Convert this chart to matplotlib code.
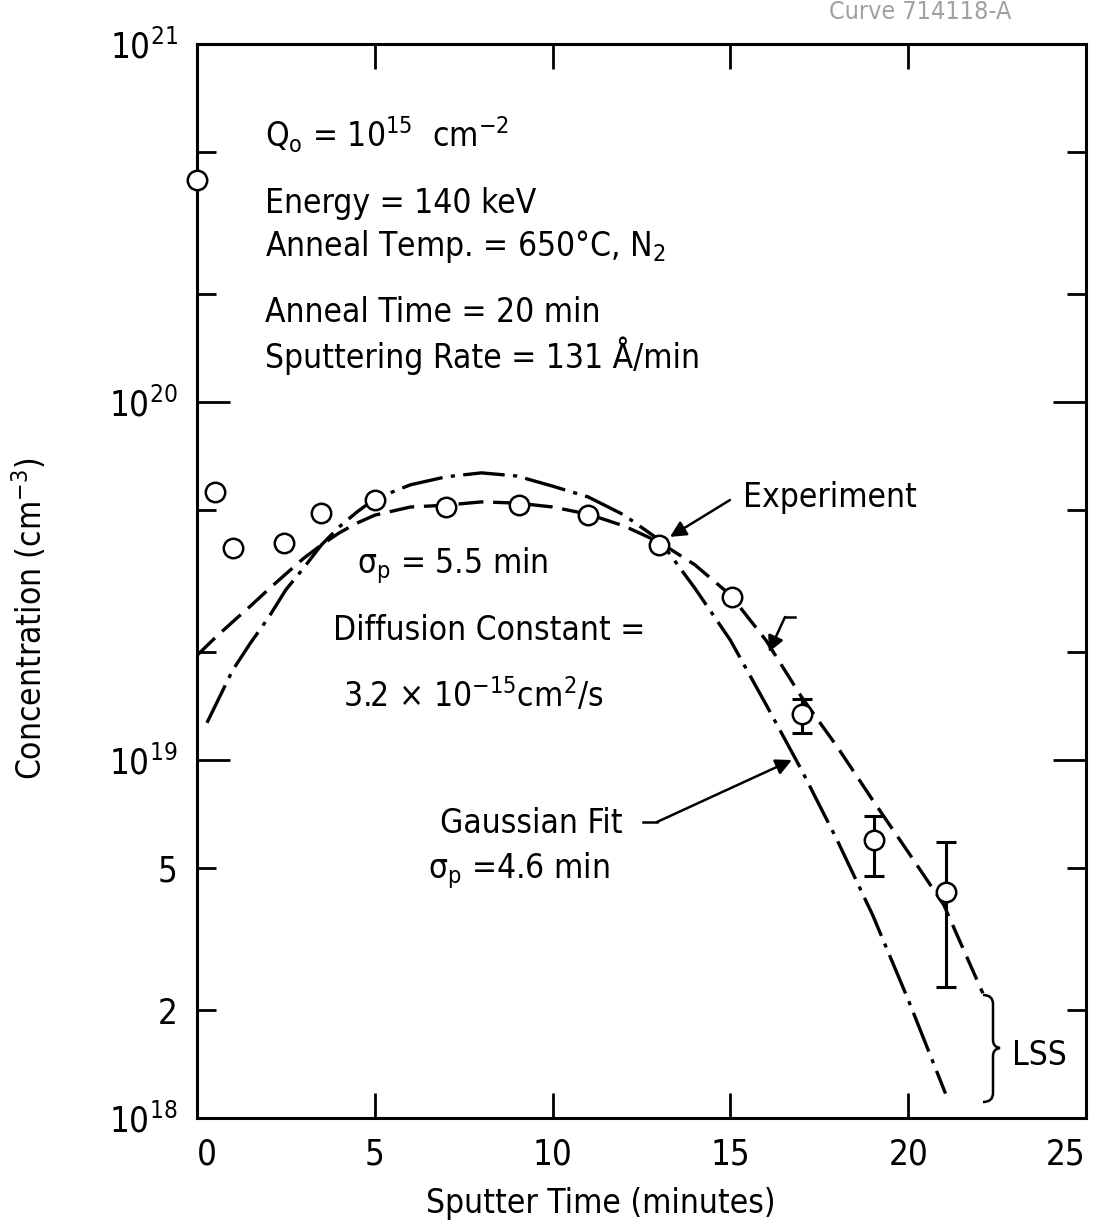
import matplotlib
matplotlib.use('Agg')
import matplotlib.pyplot as plt
from matplotlib.ticker import FixedLocator, FixedFormatter
from matplotlib.path import Path
from matplotlib.patches import PathPatch

plt.rcParams['font.family'] = ['DejaVu Sans']
plt.rcParams['font.stretch'] = 'condensed'
plt.rcParams['mathtext.default'] = 'regular'
plt.rcParams['lines.scale_dashes'] = False

# measured profile (open circles)
time_pts = [0.0, 0.5, 1.0, 2.45, 3.5, 5.0, 7.0, 9.05, 11.0, 13.0, 15.05, 17.0, 19.05, 21.05]
conc_pts = [4.17e20, 5.61e19, 3.91e19, 4.04e19, 4.90e19, 5.32e19, 5.09e19, 5.15e19,
            4.83e19, 3.99e19, 2.85e19, 1.34e19, 5.98e18, 4.27e18]

# error bars on the deep points
err_time = [17.0, 19.05, 21.05]
err_conc = [1.34e19, 5.98e18, 4.27e18]
err_low = [1.19e19, 4.74e18, 2.32e18]
err_high = [1.48e19, 6.98e18, 5.90e18]

# LSS + diffusion curve (dashed, sigma_p = 5.5 min)
lss_time = [0, 0.5, 1, 1.5, 2, 2.5, 3, 3.5, 4, 4.5, 5, 6, 7, 8, 9, 10, 11, 12, 13,
            14, 15, 16, 17, 18, 19, 20, 21, 21.5, 22.1]
lss_conc = [1.96e19, 2.19e19, 2.43e19, 2.69e19, 2.99e19, 3.31e19, 3.66e19, 3.99e19,
            4.31e19, 4.59e19, 4.83e19, 5.09e19, 5.15e19, 5.26e19, 5.22e19, 5.09e19,
            4.86e19, 4.51e19, 4.06e19, 3.51e19, 2.89e19, 2.16e19, 1.50e19, 1.09e19,
            7.73e18, 5.53e18, 3.94e18, 3.04e18, 2.23e18]

# Gaussian fit (dash-dot, sigma_p = 4.6 min)
gauss_time = [0.28, 1, 1.5, 2, 2.5, 3, 3.5, 4, 4.5, 5, 6, 7, 8, 9, 10, 11, 12, 13,
              14, 15, 16, 17, 18, 19, 20, 21.05]
gauss_conc = [1.27e19, 1.78e19, 2.12e19, 2.49e19, 2.99e19, 3.44e19, 3.99e19, 4.48e19,
              4.93e19, 5.36e19, 5.87e19, 6.18e19, 6.34e19, 6.21e19, 5.82e19, 5.43e19,
              4.84e19, 4.12e19, 3.02e19, 2.16e19, 1.43e19, 9.38e18, 5.98e18, 3.69e18,
              2.14e18, 1.17e18]

y_major = [1e18, 1e19, 1e20, 1e21]
y_major_labels = ['$10^{18}$', '$10^{19}$', '$10^{20}$', '$10^{21}$']
y_minor = [2e18, 5e18, 2e19, 5e19, 2e20, 5e20]
y_minor_labels = ['2', '5', '', '', '', '']
x_ticks = [0, 5, 10, 15, 20, 25]

fig = plt.figure(figsize=(10.98, 12.26), dpi=100)
ax = fig.add_axes([197 / 1098, 108 / 1226, 889 / 1098, 1074 / 1226])


def at(px, py):
    # pixel position in the figure -> axes fraction
    return ((px - 197) / 889, (1118 - py) / 1074)


ax.plot(lss_time, lss_conc, color='k', lw=2.4, dashes=(18, 7), zorder=2)
ax.plot(gauss_time, gauss_conc, color='k', lw=2.4, dashes=(30, 6, 3, 6), zorder=2)

ax.errorbar(err_time, err_conc,
            yerr=[[c - l for c, l in zip(err_conc, err_low)],
                  [h - c for c, h in zip(err_conc, err_high)]],
            fmt='none', ecolor='k', elinewidth=2.2, capsize=7, capthick=2.2, zorder=3)
ax.plot(time_pts, conc_pts, 'o', ms=14, mfc='white', mec='k', mew=1.8,
        zorder=4, clip_on=False)

ax.set_yscale('log')
ax.set_xlim(0, 25)
ax.set_ylim(1e18, 1e21)
ax.yaxis.set_major_locator(FixedLocator(y_major))
ax.yaxis.set_major_formatter(FixedFormatter(y_major_labels))
ax.yaxis.set_minor_locator(FixedLocator(y_minor))
ax.yaxis.set_minor_formatter(FixedFormatter(y_minor_labels))
ax.set_xticks(x_ticks)
ax.set_xticklabels([str(t) for t in x_ticks])

ax.tick_params(axis='y', which='both', direction='in', left=True, right=True,
               labelsize=25, pad=14, width=2)
ax.tick_params(axis='y', which='major', length=24)
ax.tick_params(axis='y', which='minor', length=14)
ax.tick_params(axis='x', direction='in', top=True, length=18, width=2,
               labelsize=25, pad=14)
xlabels = ax.get_xticklabels()
xlabels[0].set_horizontalalignment('left')
xlabels[-1].set_horizontalalignment('right')
for spine in ax.spines.values():
    spine.set_linewidth(2.2)

ax.set_xlabel('Sputter Time (minutes)', fontsize=24)
ax.xaxis.set_label_coords(0.454, -0.064)
ax.set_ylabel('Concentration (cm$^{-3}$)', fontsize=24)
ax.yaxis.set_label_coords(-0.166, 0.465)

fs = 24
tk = dict(transform=ax.transAxes, fontsize=fs, va='baseline', ha='left')
ax.text(*at(265, 147), r'$Q_o$ = 10$^{15}$  cm$^{-2}$', **tk)
ax.text(*at(265, 213), 'Energy = 140 keV', **tk)
ax.text(*at(265, 256), 'Anneal Temp. = 650°C, N$_2$', **tk)
ax.text(*at(265, 322), 'Anneal Time = 20 min', **tk)
ax.text(*at(265, 368), 'Sputtering Rate = 131 Å/min', **tk)
ax.text(*at(743, 507), 'Experiment', **tk)
ax.text(*at(357, 573), r'$\sigma_p$ = 5.5 min', **tk)
ax.text(*at(333, 640), 'Diffusion Constant =', **tk)
ax.text(*at(343, 707), '3.2 × 10$^{-15}$cm$^2$/s', **tk)
ax.text(*at(440, 833), 'Gaussian Fit', **tk)
ax.text(*at(428, 878), r'$\sigma_p$ =4.6 min', **tk)
ax.text(*at(1012, 1065), 'LSS', **tk)

arrow = dict(arrowstyle='-|>', lw=1.8, color='k', mutation_scale=24,
             shrinkA=0, shrinkB=0)
ax.annotate('', xy=(13.3, 4.2e19), xytext=at(730, 500),
            textcoords='axes fraction', arrowprops=arrow)

h0, h1 = at(785, 617), at(795, 617)
ax.plot([h0[0], h1[0]], [h0[1], h1[1]], color='k', lw=1.8, transform=ax.transAxes)
ax.annotate('', xy=(16.08, 2.0e19), xytext=h0, textcoords='axes fraction',
            arrowprops=arrow)

g0, g1 = at(643, 822), at(657, 822)
ax.plot([g0[0], g1[0]], [g0[1], g1[1]], color='k', lw=1.8, transform=ax.transAxes)
ax.annotate('', xy=(16.73, 1.0e19), xytext=g1, textcoords='axes fraction',
            arrowprops=arrow)

# curly brace for LSS
brace_px = [(983, 995), (993, 995), (993, 1004), (993, 1012),
            (993, 1040), (993, 1047), (1000, 1048),
            (993, 1049), (993, 1056), (993, 1085),
            (993, 1093), (993, 1102), (983, 1102)]
codes = [Path.MOVETO, Path.CURVE3, Path.CURVE3, Path.LINETO,
         Path.LINETO, Path.CURVE3, Path.CURVE3,
         Path.CURVE3, Path.CURVE3, Path.LINETO,
         Path.LINETO, Path.CURVE3, Path.CURVE3]
brace = Path([at(*p) for p in brace_px], codes)
ax.add_patch(PathPatch(brace, fill=False, lw=1.8, color='k',
                       transform=ax.transAxes, clip_on=False))

fig.text(0.755, 0.99, 'Curve 714118-A', color='#a0a0a0', fontsize=18, va='center')

fig.savefig('out.png', dpi=100)
